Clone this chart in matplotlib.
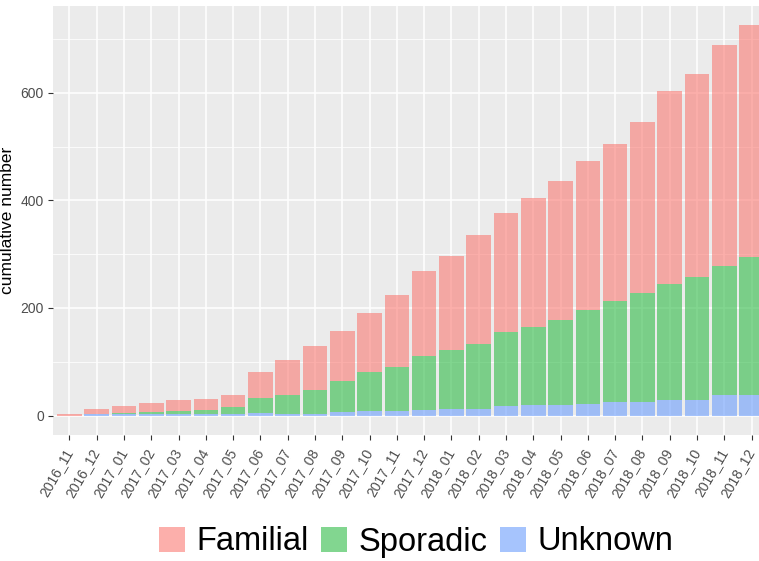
import matplotlib
matplotlib.use("Agg")
import matplotlib.pyplot as plt
import numpy as np
from matplotlib.patches import Patch

plt.rcParams["font.family"] = ["Liberation Sans", "DejaVu Sans"]

months = [
    "2016_11", "2016_12", "2017_01", "2017_02", "2017_03", "2017_04",
    "2017_05", "2017_06", "2017_07", "2017_08", "2017_09", "2017_10",
    "2017_11", "2017_12", "2018_01", "2018_02", "2018_03", "2018_04",
    "2018_05", "2018_06", "2018_07", "2018_08", "2018_09", "2018_10",
    "2018_11", "2018_12",
]
unknown = [0, 2, 2, 2, 2, 2, 2, 4, 3, 3, 6, 8, 8, 10, 13, 13,
           18, 20, 20, 22, 25, 26, 29, 29, 38, 38]
sporadic = [0, 0, 2, 4, 6, 8, 13, 29, 35, 44, 59, 72, 83, 101, 108, 119,
            137, 144, 158, 174, 187, 202, 215, 229, 240, 257]
familial = [2, 11, 14, 18, 20, 21, 23, 47, 66, 82, 92, 111, 133, 158, 176, 204,
            222, 240, 258, 277, 293, 318, 360, 377, 410, 430]

colors = {"Familial": "#FA7B73", "Sporadic": "#2FBC46", "Unknown": "#6B9DFD"}
alpha = 0.6

fig = plt.figure(figsize=(7.59, 5.61), dpi=100)
W, H = 759, 561
ax = fig.add_axes([53 / W, 1 - 435 / H, (768 - 53) / W, 429 / H])
ax.set_facecolor("#EBEBEB")

x = np.arange(len(months))
unknown = np.array(unknown)
sporadic = np.array(sporadic)
familial = np.array(familial)

ax.bar(x, unknown, width=0.9, color=colors["Unknown"], alpha=alpha, linewidth=0)
ax.bar(x, sporadic, bottom=unknown, width=0.9, color=colors["Sporadic"],
       alpha=alpha, linewidth=0)
ax.bar(x, familial, bottom=unknown + sporadic, width=0.9,
       color=colors["Familial"], alpha=alpha, linewidth=0)

total_max = (unknown + sporadic + familial).max()
pad = 0.05 * total_max
ax.set_ylim(-pad, total_max + pad)
ax.set_xlim(-0.6, len(months) - 0.4)

ax.set_yticks([0, 200, 400, 600])
ax.set_yticks([100, 300, 500, 700], minor=True)
ax.set_xticks(x)
ax.set_xticklabels(months, rotation=60, ha="right", va="center",
                   rotation_mode="anchor")

ax.set_axisbelow(True)
ax.grid(which="major", color="white", linewidth=1.1)
ax.grid(which="minor", axis="y", color="white", linewidth=0.55)
for s in ax.spines.values():
    s.set_visible(False)

ax.tick_params(axis="both", which="major", length=3.5, width=0.8,
               color="#333333", labelcolor="#4D4D4D", labelsize=10, pad=3)
ax.tick_params(axis="y", which="minor", length=0)
ax.tick_params(axis="x", pad=7)

ax.set_ylabel("cumulative number", fontsize=12.5, color="black", va="center")
ax.yaxis.set_label_coords((8 - 53) / 715, 0.5)

handles = [Patch(facecolor=colors[k], alpha=alpha, edgecolor="none")
           for k in ["Familial", "Sporadic", "Unknown"]]
fig.legend(handles, ["Familial", "Sporadic", "Unknown"], loc="center",
           bbox_to_anchor=(416 / W, 1 - 542 / H), ncol=3, frameon=False,
           fontsize=23.5, handlelength=0.8, handleheight=0.8,
           handletextpad=0.33, columnspacing=0.4, borderpad=0)

fig.savefig("out.png", dpi=100)
